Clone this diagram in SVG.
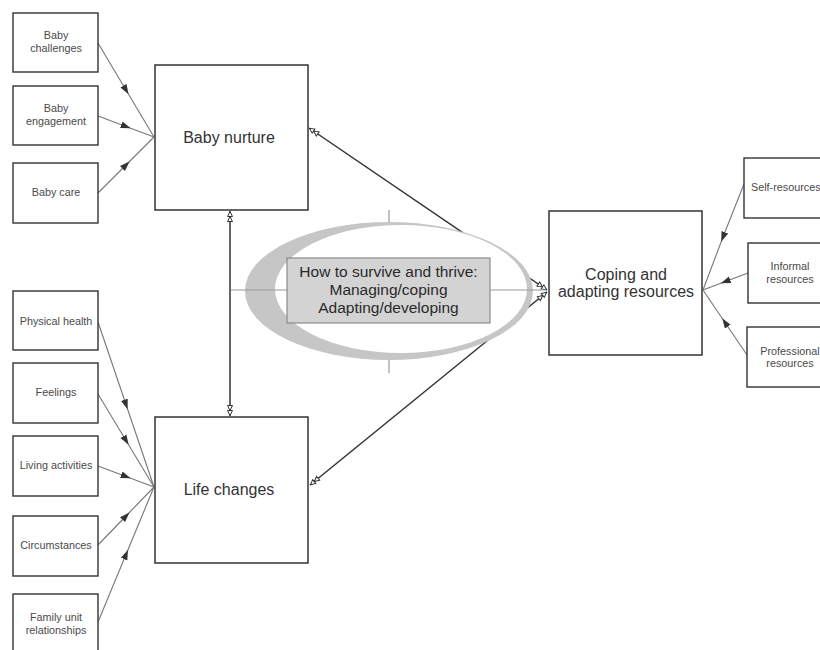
<svg xmlns="http://www.w3.org/2000/svg" width="820" height="650" viewBox="0 0 820 650">
<style>
.box{fill:#fff;stroke:#333;stroke-width:1.4}
.big{fill:#fff;stroke:#333;stroke-width:1.5}
.sm{font-family:"Liberation Sans",Arial,sans-serif;font-size:10.8px;fill:#4a4a4a;text-anchor:middle}
.lg{font-family:"Liberation Sans",Arial,sans-serif;font-size:16px;fill:#333;text-anchor:middle}
.ct{font-family:"Liberation Sans",Arial,sans-serif;font-size:15.5px;fill:#2a2a2a;text-anchor:middle}
.in{fill:none;stroke:#777;stroke-width:1.1;marker-mid:url(#fa)}
.main{fill:none;stroke:#333;stroke-width:1.5}
.thin{fill:none;stroke:#999;stroke-width:1.2}
</style>
<defs>
<marker id="fa" viewBox="0 0 10 8" refX="5" refY="4" markerWidth="10" markerHeight="8" markerUnits="userSpaceOnUse" orient="auto"><path d="M10,4 L0,0.5 L0,7.5 Z" fill="#333"/></marker>
<marker id="oa2" viewBox="0 0 12 8" refX="11.5" refY="4" markerWidth="12" markerHeight="8" markerUnits="userSpaceOnUse" orient="auto-start-reverse"><path d="M11,4 L6,1.5 L6,6.5 Z M6,4 L1,1.5 L1,6.5 Z" fill="#fff" stroke="#333" stroke-width="1"/></marker>
</defs>
<rect width="820" height="650" fill="#fff"/>
<g id="connectors">
<path class="in" d="M98,43 L126,90 L154,137"/>
<path class="in" d="M98,116 L126,126.5 L154,137"/>
<path class="in" d="M98,193 L126,165 L154,137"/>
<path class="in" d="M98,322 L126,404.5 L154,487"/>
<path class="in" d="M98,394 L126,440.5 L154,487"/>
<path class="in" d="M98,466 L126,476.5 L154,487"/>
<path class="in" d="M98,545 L126,516 L154,487"/>
<path class="in" d="M98,622 L126,554.5 L154,487"/>
<path class="in" d="M744,184 L723,237 L703,290"/>
<path class="in" d="M748,273 L725.5,281.5 L703,290"/>
<path class="in" d="M747,355 L725,322.5 L703,290"/>
<path class="main" d="M230,211 L230,416" marker-start="url(#oa2)" marker-end="url(#oa2)"/>
<path class="main" d="M547,290 L309,128" marker-start="url(#oa2)" marker-end="url(#oa2)"/>
<path class="main" d="M547,292 L310,485" marker-start="url(#oa2)" marker-end="url(#oa2)"/>
</g>
<g id="core">
<ellipse cx="389" cy="291" rx="144" ry="69" fill="#c6c6c6"/>
<ellipse cx="401" cy="289" rx="126" ry="64" fill="#fff"/>
<path class="thin" d="M389,210 L389,222 M389,360 L389,373 M231,290 L288,290 M490,290 L546,290"/>
<rect x="287" y="258" width="203" height="65" fill="#d3d3d3" stroke="#8a8a8a" stroke-width="1.2"/>
<text class="ct" x="388.5" y="277">How to survive and thrive:</text>
<text class="ct" x="388.5" y="295">Managing/coping</text>
<text class="ct" x="388.5" y="313">Adapting/developing</text>
</g>
<g id="baby-challenges"><rect class="box" x="13" y="13" width="85" height="59"/><text class="sm" x="56" y="39">Baby</text><text class="sm" x="56" y="52">challenges</text></g>
<g id="baby-engagement"><rect class="box" x="13" y="86" width="85" height="59"/><text class="sm" x="56" y="112">Baby</text><text class="sm" x="56" y="125">engagement</text></g>
<g id="baby-care"><rect class="box" x="13" y="163" width="85" height="60"/><text class="sm" x="56" y="196">Baby care</text></g>
<g id="physical-health"><rect class="box" x="13" y="291" width="85" height="59"/><text class="sm" x="56" y="325">Physical health</text></g>
<g id="feelings"><rect class="box" x="13" y="363" width="85" height="60"/><text class="sm" x="56" y="396">Feelings</text></g>
<g id="living-activities"><rect class="box" x="13" y="436" width="85" height="60"/><text class="sm" x="56" y="469">Living activities</text></g>
<g id="circumstances"><rect class="box" x="13" y="516" width="85" height="60"/><text class="sm" x="56" y="549">Circumstances</text></g>
<g id="family-unit"><rect class="box" x="13" y="594" width="85" height="70"/><text class="sm" x="56" y="621">Family unit</text><text class="sm" x="56" y="634">relationships</text></g>
<g id="baby-nurture"><rect class="big" x="155" y="65" width="153" height="145"/><text class="lg" x="229" y="143">Baby nurture</text></g>
<g id="life-changes"><rect class="big" x="155" y="417" width="153" height="146"/><text class="lg" x="229" y="495">Life changes</text></g>
<g id="coping"><rect class="big" x="549" y="211" width="153" height="144"/><text class="lg" x="626" y="280">Coping and</text><text class="lg" x="626" y="297">adapting resources</text></g>
<g id="self-resources"><rect class="box" x="744" y="158" width="90" height="60"/><text class="sm" x="751" y="191" style="text-anchor:start">Self-resources</text></g>
<g id="informal"><rect class="box" x="748" y="243" width="90" height="60"/><text class="sm" x="790" y="270">Informal</text><text class="sm" x="790" y="283">resources</text></g>
<g id="professional"><rect class="box" x="747" y="327" width="90" height="60"/><text class="sm" x="790" y="355">Professional</text><text class="sm" x="790" y="367">resources</text></g>
</svg>
